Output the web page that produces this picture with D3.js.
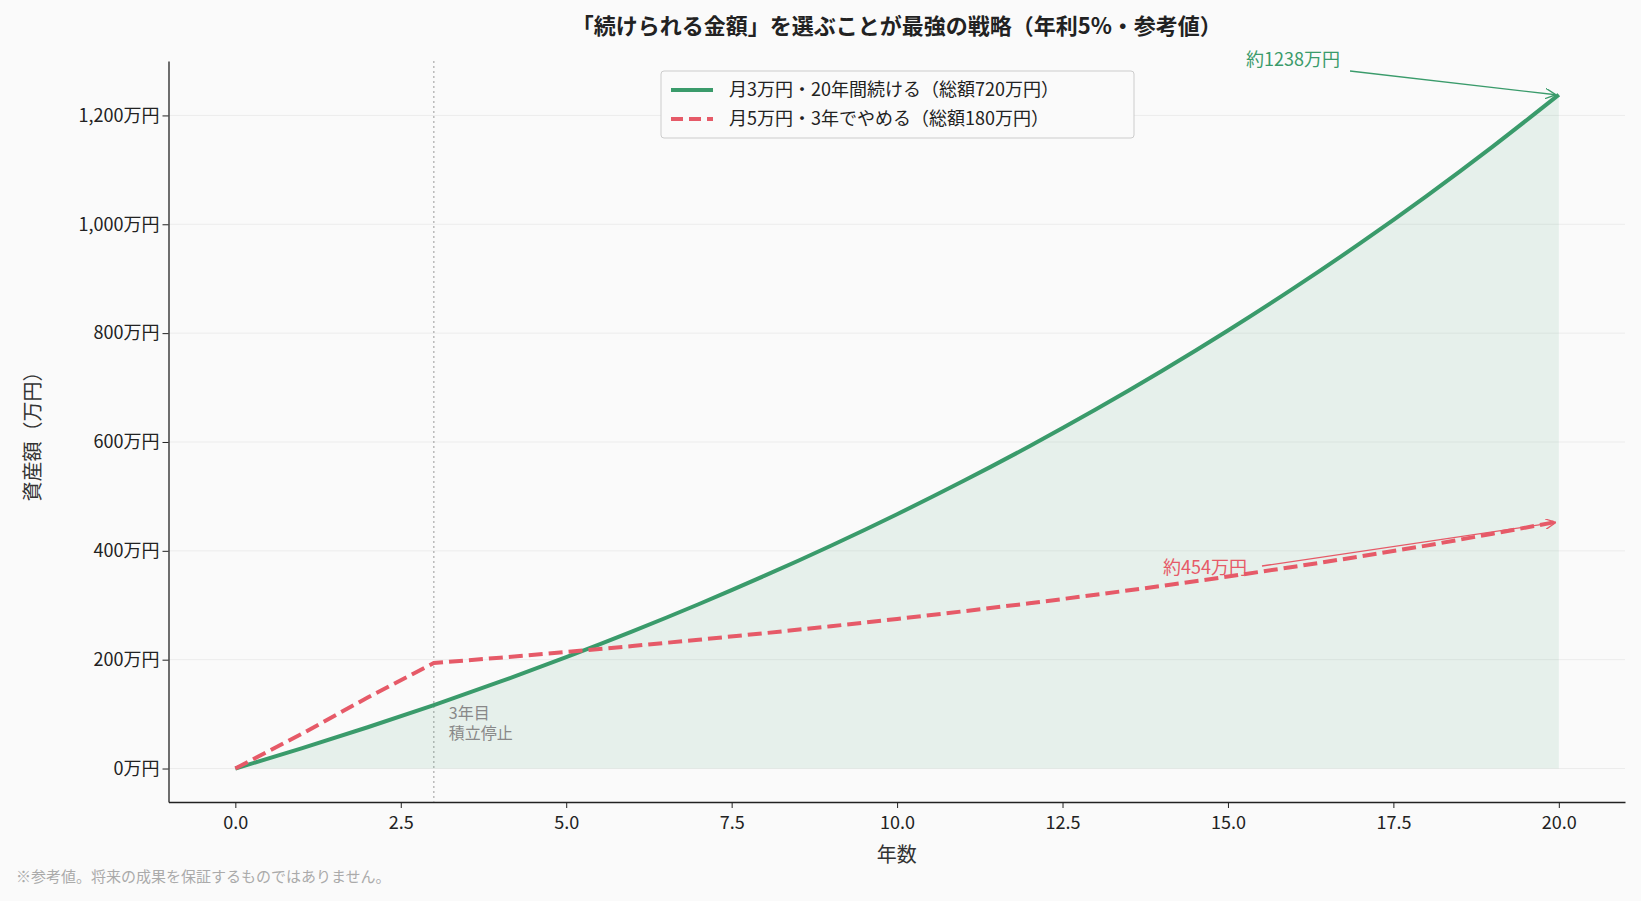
<!DOCTYPE html><html><head><meta charset="utf-8">
<script src="https://cdn.jsdelivr.net/npm/d3@7"></script>
<style>body{margin:0;background:#fafafa}text{font-family:"Noto Sans CJK JP","Noto Sans",sans-serif}</style></head><body>
<svg id="c" width="1641" height="901"></svg>
<script>
const years=[0,1,2,3,4,5,6,7,8,9,10,11,12,13,14,15,16,17,18,19,20];
const continueVals=[0,36.9,75.8,116.6,159.5,204.6,252.0,301.9,354.3,409.4,467.3,528.2,592.2,659.5,730.3,804.7,883.0,965.3,1051.8,1142.7,1238];
const stopVals=[0,63.5,130.5,193.8,203.7,214.1,225.1,236.6,248.7,261.4,274.8,288.9,303.6,319.2,335.5,352.7,370.7,389.7,409.6,431.4,454];
const xTicks=[0,2.5,5,7.5,10,12.5,15,17.5,20];
const yTicks=[0,200,400,600,800,1000,1200];
const seriesNames=["月3万円・20年間続ける（総額720万円）","月5万円・3年でやめる（総額180万円）"];
const G="#3a9b6b",R="#e65a68";
const svg=d3.select("#c");
const L=168.5,Rr=1625,T=61,B=802;
const x=d3.scaleLinear().domain([-1.01,21]).range([L,Rr]);
const y=d3.scaleLinear().domain([-61.5,1300]).range([B,T]);
svg.append("g").selectAll("line").data(yTicks).join("line").attr("x1",L).attr("x2",Rr).attr("y1",d=>y(d)).attr("y2",d=>y(d)).attr("stroke","#ececec");
const xa=svg.append("g").attr("transform",`translate(0,${B})`).call(d3.axisBottom(x).tickValues(xTicks).tickFormat(d3.format(".1f")).tickSizeOuter(0));
const ya=svg.append("g").attr("transform",`translate(${L},0)`).call(d3.axisLeft(y).tickValues(yTicks).tickFormat(d=>d3.format(",")(d)+"万円").tickSizeOuter(0));
[xa,ya].forEach(a=>{a.selectAll("text").attr("font-size",18).attr("fill","#222");a.select(".domain").attr("stroke","#222").attr("stroke-width",1.3);a.selectAll(".tick line").attr("stroke","#222");});
xa.selectAll("text").attr("dy","1em");
svg.append("line").attr("x1",x(3)).attr("x2",x(3)).attr("y1",T).attr("y2",B).attr("stroke","#999").attr("stroke-dasharray","2,3");
const d0=years.map((v,i)=>[v,continueVals[i]]),d1=years.map((v,i)=>[v,stopVals[i]]);
svg.append("path").datum(d0).attr("d",d3.area().curve(d3.curveMonotoneX).x(d=>x(d[0])).y0(y(0)).y1(d=>y(d[1]))).attr("fill",G).attr("opacity",0.1);
const ln=d3.line().curve(d3.curveMonotoneX).x(d=>x(d[0])).y(d=>y(d[1]));
svg.append("path").datum(d0).attr("d",ln).attr("fill","none").attr("stroke",G).attr("stroke-width",4);
svg.append("path").datum(d1).attr("d",d3.line().x(d=>x(d[0])).y(d=>y(d[1]))).attr("fill","none").attr("stroke",R).attr("stroke-width",4).attr("stroke-dasharray","14,6");
svg.append("text").attr("x",x(3)+15).attr("y",y(100)+5).attr("font-size",16).attr("fill","#888").text("3年目");
svg.append("text").attr("x",x(3)+15).attr("y",y(100)+25).attr("font-size",16).attr("fill","#888").text("積立停止");
const defs=svg.append("defs");
[["g",G],["r",R]].forEach(([id,c])=>defs.append("marker").attr("id","m"+id).attr("viewBox","0 0 10 10").attr("refX",10).attr("refY",5).attr("markerWidth",8).attr("markerHeight",8).attr("orient","auto").append("path").attr("d","M0,0L10,5L0,10").attr("fill","none").attr("stroke",c).attr("stroke-width",1.3));
svg.append("line").attr("x1",1350).attr("y1",71).attr("x2",x(20)-3).attr("y2",y(1238)).attr("stroke",G).attr("stroke-width",1.3).attr("marker-end","url(#mg)");
svg.append("text").attr("x",1340).attr("y",66).attr("text-anchor","end").attr("font-size",18).attr("fill",G).text("約1238万円");
svg.append("line").attr("x1",1262).attr("y1",566).attr("x2",x(20)-3).attr("y2",y(454)+1).attr("stroke",R).attr("stroke-width",1.3).attr("marker-end","url(#mr)");
svg.append("text").attr("x",1163).attr("y",574).attr("font-size",18).attr("fill",R).text("約454万円");
const lg=svg.append("g");
lg.append("rect").attr("x",661).attr("y",71).attr("width",473).attr("height",67).attr("rx",3).attr("fill","#fafafa").attr("stroke","#ccc");
seriesNames.forEach((n,i)=>{const yy=90+i*29;
lg.append("line").attr("x1",671).attr("x2",713).attr("y1",yy).attr("y2",yy).attr("stroke",i?R:G).attr("stroke-width",4).attr("stroke-dasharray",i?"12,6":null);
lg.append("text").attr("x",729).attr("y",yy+6).attr("font-size",18).attr("fill","#222").text(n);});
svg.append("text").attr("x",(L+Rr)/2).attr("y",34).attr("text-anchor","middle").attr("font-size",22).attr("font-weight","bold").attr("fill","#222").text("「続けられる金額」を選ぶことが最強の戦略（年利5%・参考値）");
svg.append("text").attr("x",(L+Rr)/2).attr("y",862).attr("text-anchor","middle").attr("font-size",20).attr("fill","#333").text("年数");
svg.append("text").attr("transform",`translate(40,${(T+B)/2}) rotate(-90)`).attr("text-anchor","middle").attr("font-size",20).attr("fill","#333").text("資産額（万円）");
svg.append("text").attr("x",16).attr("y",882).attr("font-size",15).attr("fill","#aaa").text("※参考値。将来の成果を保証するものではありません。");
</script></body></html>
